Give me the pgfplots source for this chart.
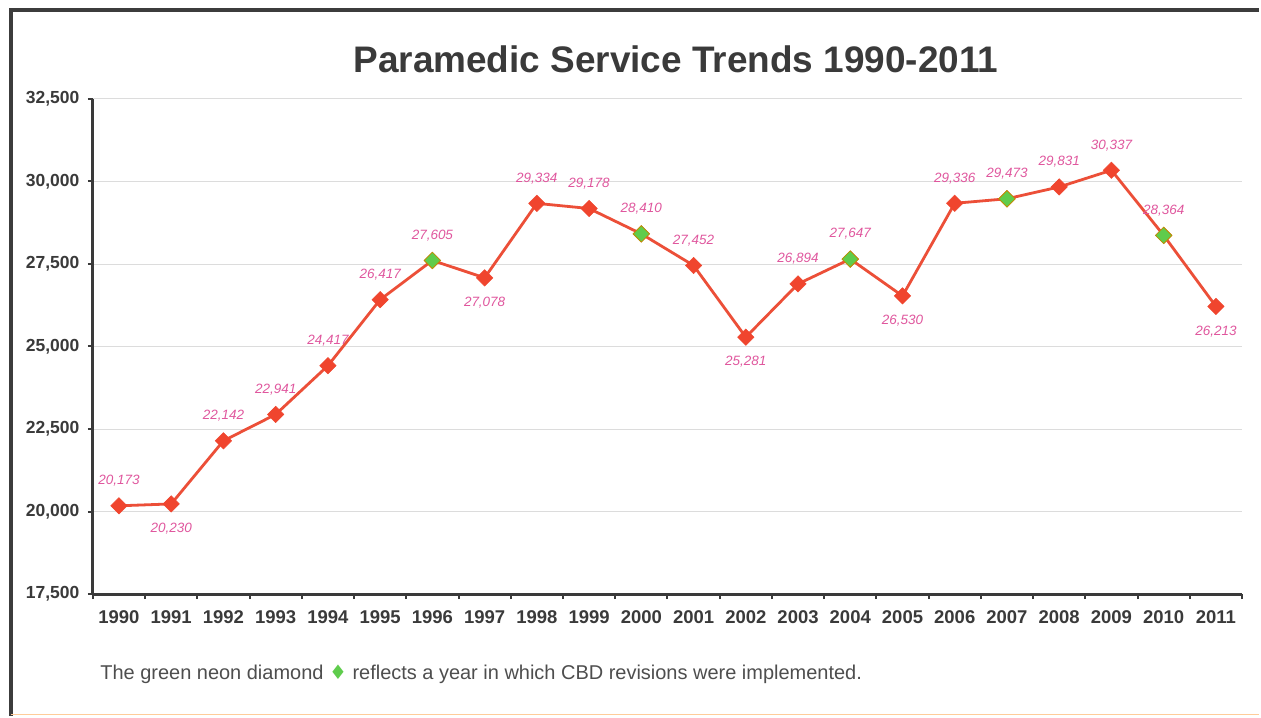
\documentclass[border=0pt]{standalone}
\usepackage{pgfplots}
\pgfplotsset{compat=1.18}
\usepackage{fontspec}
\setmainfont{Liberation Sans}
\newfontfamily\symfont{DejaVu Sans}

\definecolor{lineRed}{HTML}{EC4F38}
\definecolor{markRed}{HTML}{F0452E}
\definecolor{neonGreen}{HTML}{5FCC4C}
\definecolor{labelPink}{HTML}{E0579E}
\definecolor{tickGray}{HTML}{3A3A3A}
\definecolor{frameGray}{HTML}{3C3C3C}
\definecolor{gridGray}{HTML}{DCDCDC}

% x = year index (0 = 1990), pos = 1 label above, -1 below
\pgfplotstableread{
x y pos
0 20173 1
1 20230 -1
2 22142 1
3 22941 1
4 24417 1
5 26417 1
6 27605 1
7 27078 -1
8 29334 1
9 29178 1
10 28410 1
11 27452 1
12 25281 -1
13 26894 1
14 27647 1
15 26530 -1
16 29336 1
17 29473 1
18 29831 1
19 30337 1
20 28364 1
21 26213 -1
}\trends

\pgfplotstableread{
x y
6 27605
10 28410
14 27647
17 29473
20 28364
}\cbdyears

\begin{document}
\begin{tikzpicture}
  % page and frame
  \path[fill=white] (0pt,0pt) rectangle (1261pt,717pt);
  \draw[frameGray, line width=4pt] (11pt,0pt) -- (11pt,707pt) -- (1261pt,707pt);
  \draw[orange!40, line width=1pt] (11pt,1pt) -- (1261pt,1pt);

  \node[font=\bfseries\fontsize{37}{42}\selectfont, text=tickGray] at (677pt,658pt) {Paramedic Service Trends 1990-2011};

  \begin{axis}[
    at={(93pt,122pt)}, anchor=south west,
    scale only axis, width=1151pt, height=496pt,
    xmin=-0.5, xmax=21.5,
    ymin=17500, ymax=32500,
    ytick={17500,20000,...,32500},
    xtick={0,...,21},
    xticklabels={1990,1991,1992,1993,1994,1995,1996,1997,1998,1999,2000,2001,2002,2003,2004,2005,2006,2007,2008,2009,2010,2011},
    minor xtick={-0.5,0.5,...,21.5},
    major x tick style={draw=none},
    minor x tick style={line width=2pt, draw=tickGray},
    y tick style={line width=2pt, draw=tickGray},
    tick align=outside,
    major tick length=5pt, minor tick length=5pt,
    axis x line*=bottom, axis y line*=left,
    axis line style={line width=3pt, draw=tickGray, -},
    ymajorgrids, grid style={gridGray, line width=0.8pt},
    /pgf/number format/assume math mode=true,
    /pgf/number format/1000 sep={,},
    scaled y ticks=false,
    yticklabel style={font=\bfseries\fontsize{17.5}{20}\selectfont, text=tickGray, xshift=-5pt},
    xticklabel style={font=\bfseries\fontsize{18.5}{21}\selectfont, text=tickGray, yshift=-8pt},
    clip=false,
  ]
    \addplot[lineRed, line width=2.8pt, mark=square*, mark size=5.8pt,
      mark options={rotate=45, fill=markRed, draw=markRed, line width=0.5pt},
      point meta=explicit,
      visualization depends on={\thisrow{pos}\as\lpos},
      nodes near coords,
      nodes near coords style={anchor=center, yshift=\lpos*25pt,
        font=\itshape\fontsize{13.5}{16}\selectfont, text=labelPink,
        /pgf/number format/fixed, /pgf/number format/precision=0},
    ] table[x=x, y=y, meta=y] {\trends};

    \addplot[only marks, mark=square*, mark size=5.8pt,
      mark options={rotate=45, fill=neonGreen, draw=olive!60!orange, line width=0.8pt}]
      table[x=x, y=y] {\cbdyears};
  \end{axis}

  \node[anchor=base west, font=\fontsize{20}{24}\selectfont, text=tickGray!90] at (97pt,36pt)
    {The green neon diamond {\symfont\textcolor{neonGreen}{♦}} reflects a year in which CBD revisions were implemented.};
\end{tikzpicture}
\end{document}
